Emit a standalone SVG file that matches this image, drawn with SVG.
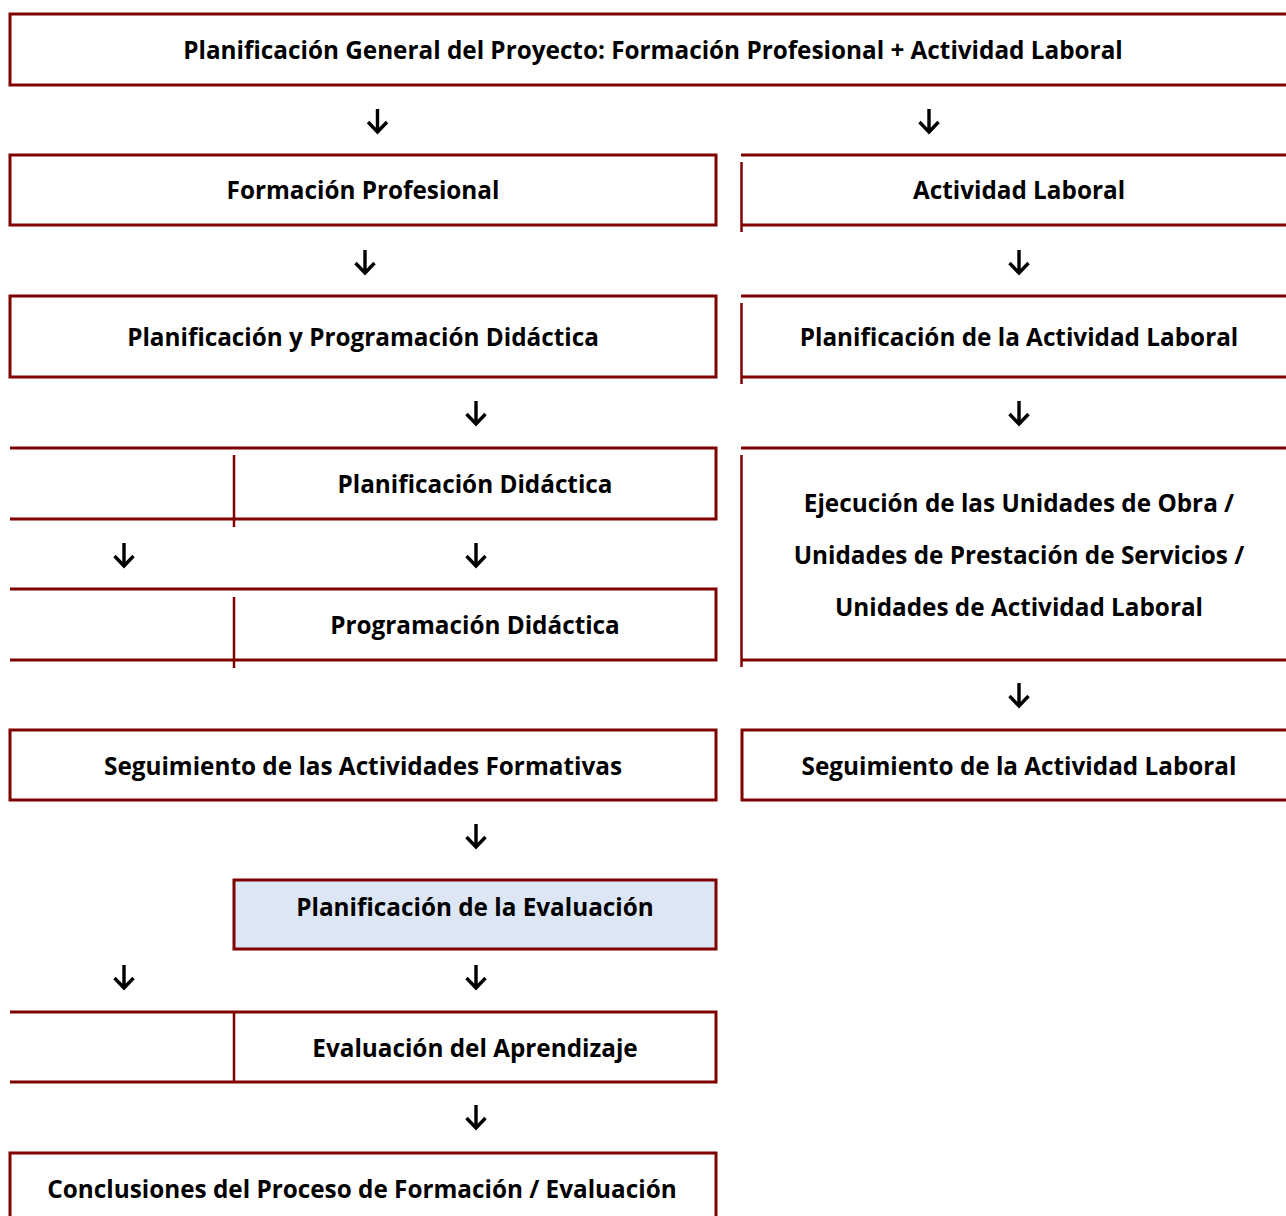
<svg xmlns="http://www.w3.org/2000/svg" xmlns:xlink="http://www.w3.org/1999/xlink" width="1286" height="1216" viewBox="0 0 1286 1216">
<style>
.b{fill:none;stroke:#800000;stroke-width:3}
.v{fill:none;stroke:#800000;stroke-width:2.5}
.f{fill:#DCE6F4;stroke:#800000;stroke-width:3}
.t{font-family:"Open Sans","Noto Sans",sans-serif;font-weight:bold;font-size:24.3px;fill:#000;text-anchor:middle}
.a{fill:none;stroke:#000;stroke-width:3.4}
</style>
<defs>
<path id="arr" class="a" d="M0,-12 V11 M-9.5,1 L0,11 L9.5,1"/>
</defs>
<rect width="1286" height="1216" fill="#fff"/>
<g id="n-general">
<rect class="b" x="10" y="14" width="1300" height="71"/>
<text class="t" x="653" y="58.5">Planificación General del Proyecto: Formación Profesional + Actividad Laboral</text>
</g>
<g id="n-fp">
<rect class="b" x="10" y="155" width="706" height="70"/>
<text class="t" x="363" y="198.5">Formación Profesional</text>
</g>
<g id="n-al">
<path class="b" d="M741,155 H1290 M741,225 H1290"/>
<path class="v" d="M741.5,162 V232"/>
<text class="t" x="1019" y="198.5">Actividad Laboral</text>
</g>
<g id="n-ppd">
<rect class="b" x="10" y="296" width="706" height="81"/>
<text class="t" x="363" y="345.5">Planificación y Programación Didáctica</text>
</g>
<g id="n-pal">
<path class="b" d="M741,296 H1290 M741,377 H1290"/>
<path class="v" d="M741.5,303 V384"/>
<text class="t" x="1019" y="345.5">Planificación de la Actividad Laboral</text>
</g>
<g id="n-pd">
<path class="b" d="M10,448 H716 V519 H10"/>
<path class="v" d="M234,455 V527"/>
<text class="t" x="475" y="492.5">Planificación Didáctica</text>
</g>
<g id="n-prd">
<path class="b" d="M10,589 H716 V660 H10"/>
<path class="v" d="M234,597 V668"/>
<text class="t" x="475" y="633.5">Programación Didáctica</text>
</g>
<g id="n-ejec">
<path class="b" d="M741,448 H1290 M741,660 H1290"/>
<path class="v" d="M741.5,455 V667"/>
<text class="t" x="1019" y="511.5">Ejecución de las Unidades de Obra /</text>
<text class="t" x="1019" y="563.5">Unidades de Prestación de Servicios /</text>
<text class="t" x="1019" y="615.5">Unidades de Actividad Laboral</text>
</g>
<g id="n-saf">
<rect class="b" x="10" y="730" width="706" height="70"/>
<text class="t" x="363" y="774.5">Seguimiento de las Actividades Formativas</text>
</g>
<g id="n-sal">
<rect class="b" x="742" y="730" width="600" height="70"/>
<text class="t" x="1019" y="774.5">Seguimiento de la Actividad Laboral</text>
</g>
<g id="n-pe">
<rect class="f" x="234" y="880" width="482" height="69"/>
<text class="t" x="475" y="915.5">Planificación de la Evaluación</text>
</g>
<g id="n-ea">
<path class="b" d="M10,1012 H716 V1082 H10"/>
<path class="v" d="M234,1011 V1082"/>
<text class="t" x="475" y="1056.5">Evaluación del Aprendizaje</text>
</g>
<g id="n-concl">
<rect class="b" x="10" y="1153" width="706" height="100"/>
<text class="t" x="362" y="1197.5">Conclusiones del Proceso de Formación / Evaluación</text>
</g>
<g id="connectors">
<use xlink:href="#arr" x="377.5" y="121"/>
<use xlink:href="#arr" x="929" y="121"/>
<use xlink:href="#arr" x="365" y="262"/>
<use xlink:href="#arr" x="1019" y="262"/>
<use xlink:href="#arr" x="476" y="413"/>
<use xlink:href="#arr" x="1019" y="413"/>
<use xlink:href="#arr" x="124" y="555"/>
<use xlink:href="#arr" x="476" y="555"/>
<use xlink:href="#arr" x="1019" y="695"/>
<use xlink:href="#arr" x="476" y="836"/>
<use xlink:href="#arr" x="124" y="977"/>
<use xlink:href="#arr" x="476" y="977"/>
<use xlink:href="#arr" x="476" y="1117"/>
</g>
</svg>
